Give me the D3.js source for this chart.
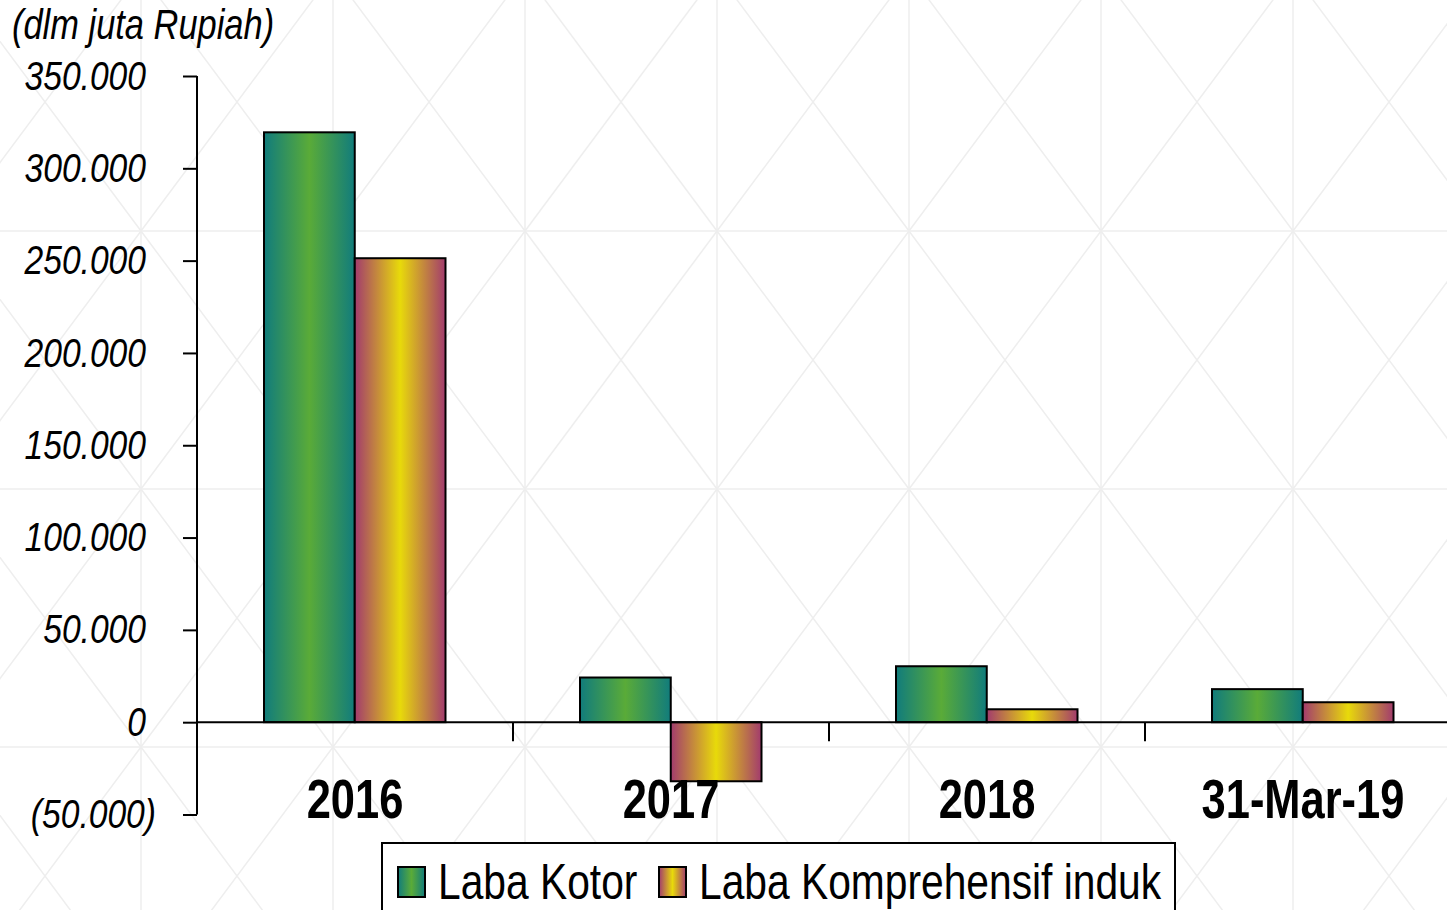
<!DOCTYPE html>
<html>
<head>
<meta charset="UTF-8">
<title>Laba Kotor vs Laba Komprehensif</title>
<script src="https://cdn.jsdelivr.net/npm/d3@7"></script>
<style>
  body { margin: 0; background: #fff; }
  svg text { font-family: "Liberation Sans", Arial, sans-serif; fill: #000; }
</style>
</head>
<body>
<svg id="chart" width="1447" height="910"></svg>
<script>
// data (dlm juta Rupiah)
var categories = ["2016", "2017", "2018", "31-Mar-19"];
var series = ["Laba Kotor", "Laba Komprehensif induk"];
var labaKotor = [319500, 24200, 30300, 17900];
var labaKomprehensif = [251300, -32000, 7000, 10800];
var yTicks = [-50000, 0, 50000, 100000, 150000, 200000, 250000, 300000, 350000];

var W = 1447, H = 910;
var svg = d3.select("#chart");

// no narrow font installed -> squeeze regular text horizontally
function narrowAt(sel, x, y, sx) {
  sel.attr("x", 0).attr("y", 0)
    .attr("transform", "translate(" + x + "," + y + ") scale(" + sx + ",1)");
  return sel;
}

// faint lattice background
var bg = svg.append("g").attr("stroke", "#eeeeee").attr("stroke-width", 1.5);
var cw = 192, ch = 258, x0 = 141, y0 = -27;
for (var gx = x0 - cw; gx < W + cw; gx += cw) {
  bg.append("line").attr("x1", gx).attr("x2", gx).attr("y1", 0).attr("y2", H);
}
for (var gy = y0; gy < H + ch; gy += ch) {
  bg.append("line").attr("x1", 0).attr("x2", W).attr("y1", gy).attr("y2", gy);
}
for (var gx = x0 - cw; gx < W + cw; gx += cw) {
  for (var gy = y0 - ch; gy < H + ch; gy += ch) {
    bg.append("line").attr("x1", gx).attr("y1", gy).attr("x2", gx + cw).attr("y2", gy + ch);
    bg.append("line").attr("x1", gx).attr("y1", gy + ch).attr("x2", gx + cw).attr("y2", gy);
  }
}

// gradients
var defs = svg.append("defs");
function grad(id, edge, mid) {
  var g = defs.append("linearGradient").attr("id", id)
    .attr("x1", "0%").attr("x2", "100%").attr("y1", "0%").attr("y2", "0%");
  g.append("stop").attr("offset", "0%").attr("stop-color", edge);
  g.append("stop").attr("offset", "50%").attr("stop-color", mid);
  g.append("stop").attr("offset", "100%").attr("stop-color", edge);
}
grad("gKotor", "#117c7c", "#5aab38");
grad("gKomp", "#a23b6e", "#e8da0a");
var fills = ["url(#gKotor)", "url(#gKomp)"];

// scales
var y = d3.scaleLinear().domain([-50000, 350000]).range([814.5, 76]);
var x0s = d3.scaleBand().domain(categories).range([197, 1461]);
var x1s = d3.scaleBand().domain(series).range([67, 248.5]);

// bars
var rows = categories.map(function(c, i) {
  return { cat: c, vals: [labaKotor[i], labaKomprehensif[i]] };
});
var grp = svg.append("g").selectAll("g").data(rows).enter().append("g")
  .attr("transform", function(d) { return "translate(" + x0s(d.cat) + ",0)"; });
grp.selectAll("rect").data(function(d) {
    return d.vals.map(function(v, j) { return { s: series[j], v: v, j: j }; });
  }).enter().append("rect")
  .attr("x", function(d) { return x1s(d.s); })
  .attr("width", x1s.bandwidth())
  .attr("y", function(d) { return y(Math.max(0, d.v)); })
  .attr("height", function(d) { return Math.abs(y(d.v) - y(0)); })
  .attr("fill", function(d) { return fills[d.j]; })
  .attr("stroke", "#000").attr("stroke-width", 2);

// y axis
var yAxis = d3.axisLeft(y).tickValues(yTicks).tickSize(14)
  .tickFormat(function(d) {
    var s = d3.format(",")(Math.abs(d)).replace(/,/g, ".");
    return d < 0 ? "(" + s + ")" : s;
  });
var ya = svg.append("g").attr("transform", "translate(197,0)").call(yAxis);
ya.select(".domain").attr("stroke", "#000").attr("stroke-width", 2).attr("d", "M0,76V814.5");
ya.selectAll(".tick line").attr("stroke", "#000").attr("stroke-width", 2);
ya.selectAll(".tick text").each(function(d) {
  narrowAt(d3.select(this), d < 0 ? -41 : -51, 0, 0.82);
})
  .attr("dy", "0.32em")
  .style("font-size", "41px").style("font-style", "italic")
  .style("font-family", null);

// zero line + category ticks
svg.append("line").attr("x1", 197).attr("x2", W).attr("y1", y(0)).attr("y2", y(0))
  .attr("stroke", "#000").attr("stroke-width", 2);
svg.append("g").selectAll("line").data(categories.slice(1)).enter().append("line")
  .attr("x1", function(d) { return x0s(d); }).attr("x2", function(d) { return x0s(d); })
  .attr("y1", y(0)).attr("y2", y(0) + 19)
  .attr("stroke", "#000").attr("stroke-width", 2);

// category labels
svg.append("g").selectAll("text").data(categories).enter().append("text")
  .each(function(d) {
    narrowAt(d3.select(this), x0s(d) + x0s.bandwidth() / 2, 818, 0.79);
  })
  .attr("text-anchor", "middle")
  .style("font-size", "55px").style("font-weight", "bold")
  .text(function(d) { return d; });

// unit title
narrowAt(svg.append("text"), 12, 39, 0.82)
  .style("font-size", "42px").style("font-style", "italic")
  .text("(dlm juta Rupiah)");

// legend
var lg = svg.append("g");
lg.append("rect").attr("x", 382).attr("y", 843).attr("width", 793).attr("height", 80)
  .attr("fill", "#fff").attr("stroke", "#000").attr("stroke-width", 2);
var legX = [398, 659];
series.forEach(function(s, i) {
  lg.append("rect").attr("x", legX[i]).attr("y", 867).attr("width", 27).attr("height", 30)
    .attr("fill", fills[i]).attr("stroke", "#000").attr("stroke-width", 2);
  narrowAt(lg.append("text"), legX[i] + 40, 899, 0.815)
    .style("font-size", "50px").text(s);
});
</script>
</body>
</html>
